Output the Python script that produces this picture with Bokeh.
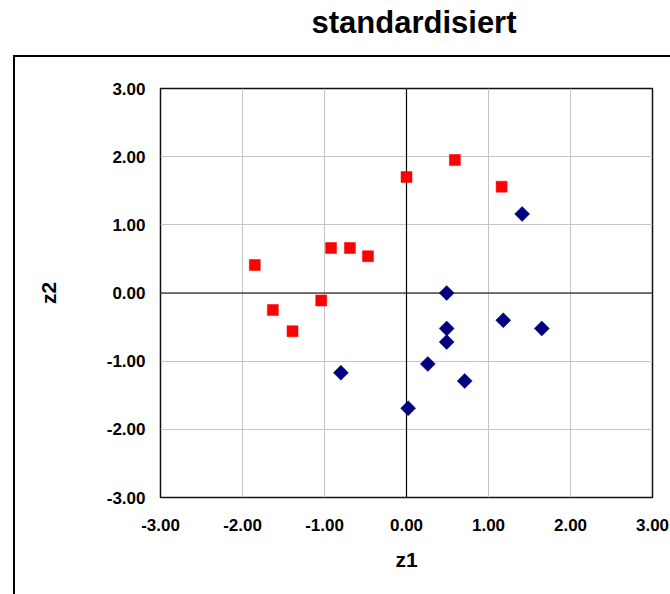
import numpy as np
from bokeh.plotting import figure
from bokeh.models import Range1d, NumeralTickFormatter, FixedTicker, Span, ColumnDataSource, InlineStyleSheet
from bokeh.embed import file_html
from bokeh.resources import INLINE

# ---- data ----
title_text = "standardisiert"
x_label = "z1"
y_label = "z2"
ticks = [-3, -2, -1, 0, 1, 2, 3]

red_x = [-1.85, -1.63, -1.39, -1.04, -0.92, -0.69, -0.47, 0.00, 0.59, 1.16]
red_y = [0.41, -0.25, -0.56, -0.11, 0.66, 0.66, 0.54, 1.70, 1.95, 1.56]

blue_x = [1.41, 0.49, 0.49, 0.49, 1.18, 1.65, 0.26, 0.71, -0.80, 0.02]
blue_y = [1.16, 0.00, -0.52, -0.72, -0.40, -0.52, -1.04, -1.29, -1.17, -1.69]

FONT = "Liberation Sans"

p = figure(width=670, height=594, output_backend="svg", toolbar_location=None,
           x_range=Range1d(-3, 3), y_range=Range1d(-3, 3),
           min_border_left=160, min_border_right=18, min_border_top=88, min_border_bottom=97)
p.background_fill_color = "white"
p.border_fill_color = "white"
p.outline_line_color = "#111111"
p.outline_line_width = 1.5

p.title.text = title_text
p.title.text_font = FONT
p.title.text_font_style = "bold"
p.title.text_font_size = "31px"
p.title.text_color = "black"
p.title.align = "left"
p.title.offset = 151
p.title.standoff = 0
p.title.padding = dict(left=0, right=0, top=0, bottom=49)

for ax in (p.xaxis[0], p.yaxis[0]):
    ax.ticker = FixedTicker(ticks=ticks)
    ax.formatter = NumeralTickFormatter(format="0.00")
    ax.axis_line_color = None
    ax.major_tick_line_color = None
    ax.minor_tick_line_color = None
    ax.major_tick_out = 0
    ax.major_tick_in = 0
    ax.major_label_text_font = FONT
    ax.major_label_text_font_style = "bold"
    ax.major_label_text_font_size = "17px"
    ax.major_label_text_color = "black"
    ax.axis_label_text_font = FONT
    ax.axis_label_text_font_style = "bold"
    ax.axis_label_text_font_size = "21px"
    ax.axis_label_text_color = "black"

p.xaxis.axis_label = x_label
p.yaxis.axis_label = y_label
p.xaxis.major_label_standoff = 21
p.xaxis.axis_label_standoff = 14
p.yaxis.major_label_standoff = 15
p.yaxis.axis_label_standoff = 44

p.xgrid.ticker = FixedTicker(ticks=ticks)
p.ygrid.ticker = FixedTicker(ticks=ticks)
p.grid.grid_line_color = "#c4c4c4"
p.grid.grid_line_width = 1

for dim in ("width", "height"):
    s = Span(location=0, dimension=dim, line_color="black", line_width=1.2, level="underlay")
    p.add_layout(s)

red_src = ColumnDataSource(dict(x=red_x, y=red_y))
blue_src = ColumnDataSource(dict(x=blue_x, y=blue_y))

p.scatter("x", "y", source=red_src, marker="square", size=11,
          fill_color="#ff0000", line_color="#ff0000", line_width=0.5)
p.scatter("x", "y", source=blue_src, marker="square", size=10.6, angle=np.pi / 4,
          fill_color="#000080", line_color="#000080", line_width=0.5)

# chart-area border (left and top edges visible, the rest runs off the page)
border_css = """
:host { position: relative; }
:host::after {
  content: "";
  position: absolute;
  left: 13px; top: 55px; right: 0px; bottom: 0px;
  border-left: 2px solid black;
  border-top: 2px solid black;
  pointer-events: none;
  z-index: 10;
}
"""
p.stylesheets = [InlineStyleSheet(css=border_css)]

open("out.html", "w").write(file_html(p, INLINE))
